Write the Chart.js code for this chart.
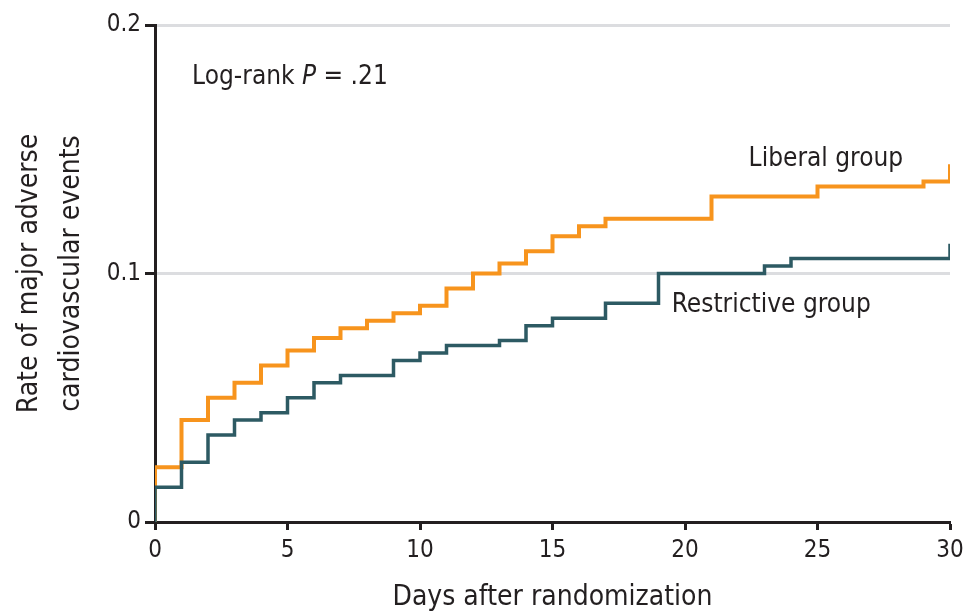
<!DOCTYPE html>
<html>
<head>
<meta charset="utf-8">
<script src="https://cdn.jsdelivr.net/npm/chart.js@4"></script>
<style>
  html, body { margin: 0; padding: 0; background: #fff; }
  #wrap { width: 966px; height: 613px; }
</style>
</head>
<body>
<div id="wrap"><canvas id="kmChart"></canvas></div>
<script>
// values
const liberalDays = [0, 0, 1, 2, 3, 4, 5, 6, 7, 8, 9, 10, 11, 12, 13, 14, 15, 16, 17, 21, 25, 29, 30];
const liberalRate = [0, 0.022, 0.041, 0.050, 0.056, 0.063, 0.069, 0.074, 0.078, 0.081, 0.084, 0.087, 0.094, 0.100, 0.104, 0.109, 0.115, 0.119, 0.122, 0.131, 0.135, 0.137, 0.144];

const restrictiveDays = [0, 0, 1, 2, 3, 4, 5, 6, 7, 9, 10, 11, 13, 14, 15, 17, 19, 23, 24, 30];
const restrictiveRate = [0, 0.014, 0.024, 0.035, 0.041, 0.044, 0.050, 0.056, 0.059, 0.065, 0.068, 0.071, 0.073, 0.079, 0.082, 0.088, 0.100, 0.103, 0.106, 0.112];

const xTicks = [0, 5, 10, 15, 20, 25, 30];
const yTicks = [0, 0.1, 0.2];

const ink = '#231f20';
const fontFamily = '"Liberation Sans Narrow", "DejaVu Sans Condensed", sans-serif';

const toPoints = (days, rates) => days.map((d, i) => ({ x: d, y: rates[i] }));

// text drawn inside the plot
const labelsPlugin = {
    id: 'kmLabels',
    afterDraw(chart) {
        const { ctx, scales: { x, y } } = chart;
        ctx.save();
        ctx.fillStyle = ink;
        ctx.textBaseline = 'middle';
        ctx.textAlign = 'left';
        ctx.font = `26px ${fontFamily}`;

        // Log-rank P = .21 (P in italics)
        let px = x.getPixelForValue(1.4);
        let py = y.getPixelForValue(0.179);
        ctx.fillText('Log-rank ', px, py);
        px += ctx.measureText('Log-rank ').width;
        ctx.font = `italic 26px ${fontFamily}`;
        ctx.fillText('P', px, py);
        px += ctx.measureText('P').width;
        ctx.font = `26px ${fontFamily}`;
        ctx.fillText(' = .21', px, py);

        ctx.fillText('Liberal group', x.getPixelForValue(22.4), y.getPixelForValue(0.1458));
        ctx.fillText('Restrictive group', x.getPixelForValue(19.5), y.getPixelForValue(0.0874));
        ctx.restore();
    }
};

const ctx = document.getElementById('kmChart').getContext('2d');
const kmChart = new Chart(ctx, {
    type: 'line',
    data: {
        datasets: [{
            label: 'Restrictive group',
            data: toPoints(restrictiveDays, restrictiveRate),
            borderColor: '#2d5a63',
            borderWidth: 3.5,
            stepped: 'before',
            pointRadius: 0,
            fill: false
        }, {
            label: 'Liberal group',
            data: toPoints(liberalDays, liberalRate),
            borderColor: '#f7941d',
            borderWidth: 4,
            stepped: 'before',
            pointRadius: 0,
            fill: false
        }]
    },
    options: {
        responsive: true,
        maintainAspectRatio: false,
        animation: false,
        layout: {
            padding: { top: 25, right: 16, bottom: 0, left: 0 }
        },
        plugins: {
            legend: { display: false },
            tooltip: { enabled: false }
        },
        scales: {
            x: {
                type: 'linear',
                min: 0,
                max: 30,
                afterBuildTicks: scale => {
                    scale.ticks = xTicks.map(v => ({ value: v }));
                },
                afterFit: scale => {
                    scale.height = 91;
                    scale.paddingLeft = 0;
                    scale.paddingRight = 0;
                },
                ticks: {
                    color: ink,
                    padding: 6,
                    maxRotation: 0,
                    font: { family: fontFamily, size: 24 }
                },
                grid: {
                    drawOnChartArea: false,
                    drawTicks: true,
                    tickLength: 8,
                    tickColor: ink,
                    tickWidth: 3
                },
                border: { display: true, color: ink, width: 3 },
                title: {
                    display: true,
                    text: 'Days after randomization',
                    color: ink,
                    font: { family: fontFamily, size: 28, lineHeight: 1.1 },
                    padding: { top: 0, bottom: 0 }
                }
            },
            y: {
                type: 'linear',
                min: 0,
                max: 0.2,
                afterBuildTicks: scale => {
                    scale.ticks = yTicks.map(v => ({ value: v }));
                },
                afterFit: scale => { scale.width = 155; },
                ticks: {
                    color: ink,
                    padding: 4,
                    font: { family: fontFamily, size: 24 },
                    callback: v => (v === 0 ? '0' : v.toFixed(1))
                },
                grid: {
                    color: c => (c.tick && c.tick.value === 0 ? 'rgba(0,0,0,0)' : '#dcdde0'),
                    lineWidth: 3,
                    drawTicks: true,
                    tickLength: 10,
                    tickColor: ink,
                    tickWidth: 3
                },
                border: { display: true, color: ink, width: 3 },
                title: {
                    display: true,
                    text: ['Rate of major adverse', 'cardiovascular events'],
                    color: ink,
                    font: { family: fontFamily, size: 28, lineHeight: 1.5 },
                    padding: { top: 9, bottom: 0 }
                }
            }
        }
    },
    plugins: [labelsPlugin]
});
</script>
</body>
</html>
